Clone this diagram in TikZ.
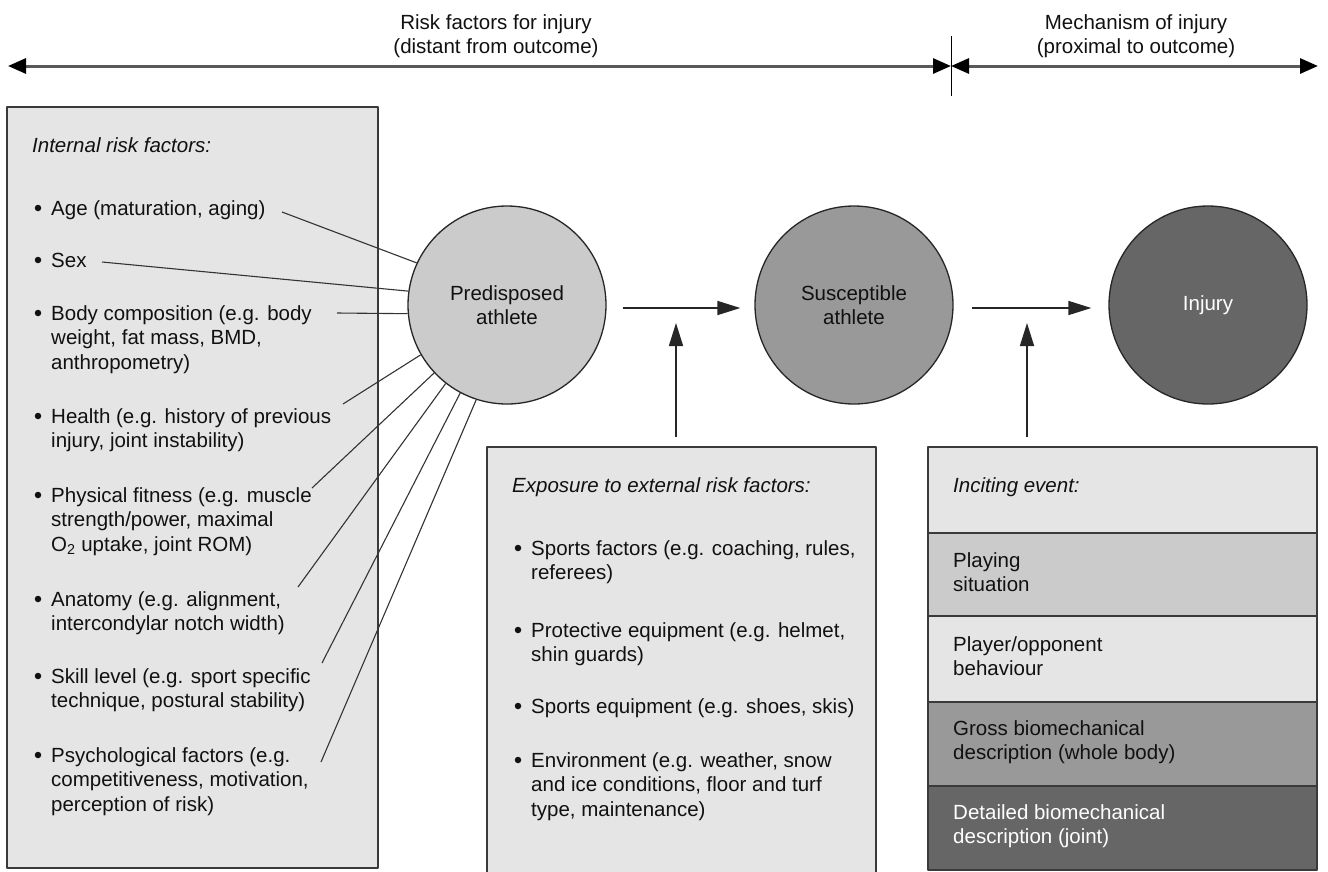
\documentclass[tikz,border=0pt]{standalone}
\usepackage{fontspec}
\setmainfont{Liberation Sans}
\usetikzlibrary{arrows.meta}
\newcommand\fs{\fontsize{20.5}{24.5}\selectfont}
\newcommand\ml[1]{\begin{tabular}[t]{@{}l@{}}#1\end{tabular}}
\newcommand\mc[1]{\begin{tabular}[t]{@{}c@{}}#1\end{tabular}}
\definecolor{lightfill}{HTML}{E5E5E5}
\definecolor{midfill}{HTML}{CBCBCB}
\definecolor{darkfill}{HTML}{999999}
\definecolor{darkerfill}{HTML}{666666}
\definecolor{edge}{HTML}{3A3A3A}
\definecolor{ink}{HTML}{111111}
\begin{document}
\begin{tikzpicture}[x=1pt,y=-1pt,line join=round,
  box/.style={draw=edge, line width=1.5pt, fill=lightfill},
  txt/.style={anchor=base west, inner sep=0pt, font=\fs, text=ink},
  dot/.style={circle, fill=ink, inner sep=0pt, minimum size=6.5pt},
  toplbl/.style={anchor=base, inner sep=0pt, font=\fs, text=ink},
  spoke/.style={draw=black!80, line width=1.1pt},
  flow/.style={draw=black!85, line width=1.6pt, -{Triangle[length=23pt,width=14pt]}},
  ball/.style={circle, draw=black!85, line width=1.3pt, minimum size=198pt, inner sep=0pt, align=center, font=\fs, text=ink},
  toparr/.style={draw=black!65, line width=3pt, {Triangle[length=18pt,width=15pt,color=black]}-{Triangle[length=18pt,width=15pt,color=black]}}
]
\useasboundingbox (0,0) rectangle (1328,871);

% ---------- top axis ----------
\coordinate (L) at (8,66);
\coordinate (M) at (951,66);
\coordinate (R) at (1318,66);
\coordinate (T1) at (951,36);
\coordinate (T2) at (951,96);
\draw[toparr] (L) -- (M);
\draw[toparr] (M) -- (R);
\draw[black, line width=1pt] (T1) -- (T2);
\node[toplbl] (riskl) at (496,29) {\mc{Risk factors for injury\\(distant from outcome)}};
\node[toplbl] (mechl) at (1136,29) {\mc{Mechanism of injury\\(proximal to outcome)}};

% ---------- boxes ----------
\draw[box] (7,107) rectangle (378,868);
\draw[box] (487,447) rectangle (876,885);
\draw[draw=edge, line width=1.5pt, fill=lightfill]  (928,447) rectangle (1317,533);
\draw[draw=edge, line width=1.5pt, fill=midfill]    (928,533) rectangle (1317,616);
\draw[draw=edge, line width=1.5pt, fill=lightfill]  (928,616) rectangle (1317,702);
\draw[draw=edge, line width=1.5pt, fill=darkfill]   (928,702) rectangle (1317,786);
\draw[draw=edge, line width=1.5pt, fill=darkerfill] (928,786) rectangle (1317,870);

% ---------- circles ----------
\node[ball, fill=midfill] (pre) at (507,305) {Predisposed\\athlete};
\node[ball, fill=darkfill] (sus) at (854,305) {Susceptible\\athlete};
\node[ball, fill=darkerfill, text=white] (inj) at (1208,305) {Injury};

% ---------- flow arrows ----------
\draw[flow] ([shift={(16pt,-3pt)}]pre.east) -- ([shift={(-14pt,-3pt)}]sus.west);
\draw[flow] ([shift={(18pt,-3pt)}]sus.east) -- ([shift={(-17pt,-3pt)}]inj.west);
\coordinate (v1a) at (676,437);
\coordinate (v1b) at (676,323);
\coordinate (v2a) at (1027,437);
\coordinate (v2b) at (1027,323);
\draw[flow] (v1a) -- (v1b);
\draw[flow] (v2a) -- (v2b);

% ---------- internal risk factors ----------
\node[txt] (ih) at (32,152) {\itshape Internal risk factors:};
\foreach \y [count=\i] in {215,267,320,423,502,606,683,762} \node[dot] (bi\i) at (38,\y-7) {};
\node[txt] (i1) at (51,215) {\ml{Age (maturation, aging)}};
\node[txt] (i2) at (51,267) {\ml{Sex}};
\node[txt] (i3) at (51,320) {\ml{Body composition (e.g. body\\weight, fat mass, BMD,\\anthropometry)}};
\node[txt] (i4) at (51,423) {\ml{Health (e.g. history of previous\\injury, joint instability)}};
\node[txt] (i5) at (51,502) {\ml{Physical fitness (e.g. muscle\\strength/power, maximal\\O\textsubscript{2} uptake, joint ROM)}};
\node[txt] (i6) at (51,606) {\ml{Anatomy (e.g. alignment,\\intercondylar notch width)}};
\node[txt] (i7) at (51,683) {\ml{Skill level (e.g. sport specific\\technique, postural stability)}};
\node[txt] (i8) at (51,762) {\ml{Psychological factors (e.g.\\competitiveness, motivation,\\perception of risk)}};

\coordinate (c1) at (282,212);
\coordinate (c2) at (102,262);
\coordinate (c3) at (337,313);
\coordinate (c4) at (343,404);
\coordinate (c5) at (312,488);
\coordinate (c6) at (298,587);
\coordinate (c7) at (322,663);
\coordinate (c8) at (321,762);
\draw[spoke] (c1) -- (pre.155);
\draw[spoke] (c2) -- (pre.172);
\draw[spoke] (c3) -- (pre.185);
\draw[spoke] (c4) -- (pre.210);
\draw[spoke] (c5) -- (pre.223);
\draw[spoke] (c6) -- (pre.232);
\draw[spoke] (c7) -- (pre.242);
\draw[spoke] (c8) -- (pre.252);

% ---------- external risk factors ----------
\node[txt] (eh) at (512,492) {\itshape Exposure to external risk factors:};
\foreach \y [count=\i] in {555,637,713,767} \node[dot] (be\i) at (518,\y-7) {};
\node[txt] (e1) at (531,555) {\ml{Sports factors (e.g. coaching, rules,\\referees)}};
\node[txt] (e2) at (531,637) {\ml{Protective equipment (e.g. helmet,\\shin guards)}};
\node[txt] (e3) at (531,713) {\ml{Sports equipment (e.g. shoes, skis)}};
\node[txt] (e4) at (531,767) {\ml{Environment (e.g. weather, snow\\and ice conditions, floor and turf\\type, maintenance)}};

% ---------- inciting event ----------
\node[txt] (ieh) at (953,492) {\itshape Inciting event:};
\node[txt] (r1) at (953,567) {\ml{Playing\\situation}};
\node[txt] (r2) at (953,651) {\ml{Player/opponent\\behaviour}};
\node[txt] (r3) at (953,735) {\ml{Gross biomechanical\\description (whole body)}};
\node[txt, text=white] (r4) at (953,819) {\ml{Detailed biomechanical\\description (joint)}};
\end{tikzpicture}
\end{document}
